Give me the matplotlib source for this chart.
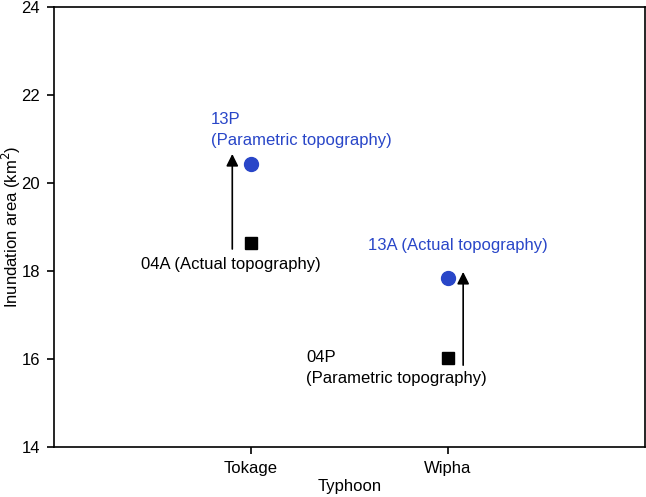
import matplotlib
matplotlib.use("Agg")
import matplotlib.pyplot as plt

plt.rcParams['font.family'] = ['Liberation Sans', 'DejaVu Sans']

typhoons = ["Tokage", "Wipha"]
x_pos = [1, 2]
actual_topo = [18.63, 16.02]      # squares
param_topo = [20.43, 17.83]       # circles
blue = "#2946c8"

fig = plt.figure(figsize=(6.46, 4.97), dpi=100)
ax = fig.add_axes([54 / 646, 50 / 497, 591 / 646, 440 / 497])

ax.plot(x_pos, actual_topo, ls="none", marker="s", ms=9, color="black")
ax.plot(x_pos, param_topo, ls="none", marker="o", ms=10, color=blue)

# arrows: Tokage actual -> parametric, Wipha parametric -> actual
ax.annotate("", xy=(0.905, 20.66), xytext=(0.905, 18.5),
            arrowprops=dict(arrowstyle="-|>", color="black", lw=1.2,
                            mutation_scale=18, shrinkA=0, shrinkB=0))
ax.annotate("", xy=(2.077, 17.98), xytext=(2.077, 15.86),
            arrowprops=dict(arrowstyle="-|>", color="black", lw=1.2,
                            mutation_scale=18, shrinkA=0, shrinkB=0))

fs = 12
ax.text(0.797, 21.2, "13P\n(Parametric topography)", color=blue, fontsize=fs,
        va="center", ha="left", linespacing=1.5)
ax.text(0.442, 18.14, "04A (Actual topography)", color="black", fontsize=fs,
        va="center", ha="left")
ax.text(1.594, 18.59, "13A (Actual topography)", color=blue, fontsize=fs,
        va="center", ha="left")
ax.text(1.279, 15.8, "04P\n(Parametric topography)", color="black", fontsize=fs,
        va="center", ha="left", linespacing=1.5)

ax.set_xlim(0, 3)
ax.set_ylim(14, 24)
ax.set_xticks(x_pos)
ax.set_xticklabels(typhoons)
ax.set_yticks([14, 16, 18, 20, 22, 24])
ax.tick_params(direction="out", length=5, width=1.2, labelsize=fs, pad=5)
for s in ax.spines.values():
    s.set_linewidth(1.2)
ax.set_xlabel("Typhoon", fontsize=fs, labelpad=2)
ax.set_ylabel("Inundation area (km$^2$)", fontsize=fs)
ax.yaxis.set_label_coords(-0.052, 0.5)

fig.savefig("out.png", dpi=100)
